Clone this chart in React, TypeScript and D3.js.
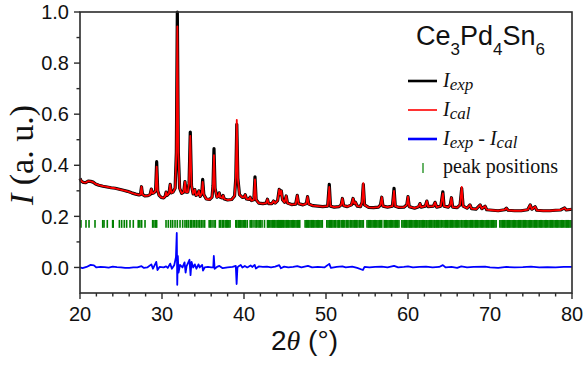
import React from "react";
import * as d3 from "d3";

// ---- data ----
const expData: [number, number][] = [
  [20.0,0.348],[20.15,0.338],[20.4,0.333],[20.7,0.332],[21.0,0.338],[21.3,0.337],[21.6,0.334],[21.9,0.327],
  [22.3,0.322],[22.8,0.318],[23.3,0.315],[23.8,0.312],[24.3,0.310],[24.8,0.306],[25.3,0.302],[25.8,0.298],
  [26.3,0.292],[26.8,0.287],[27.2,0.284],[27.38,0.286],[27.5,0.316],[27.62,0.286],[27.9,0.280],[28.3,0.281],
  [28.55,0.285],[28.7,0.307],[28.82,0.29],[29.0,0.292],[29.22,0.30],[29.35,0.414],[29.48,0.30],[29.65,0.282],
  [29.9,0.274],[30.2,0.272],[30.38,0.278],[30.5,0.295],[30.62,0.282],[30.85,0.290],[31.0,0.325],[31.13,0.292],
  [31.35,0.295],[31.6,0.31],[31.75,0.45],[31.87,1.0],[31.99,0.45],[32.15,0.31],[32.4,0.29],[32.65,0.295],
  [32.8,0.336],[32.93,0.295],[33.15,0.295],[33.3,0.33],[33.45,0.53],[33.6,0.32],[33.8,0.288],[34.0,0.305],
  [34.15,0.282],[34.35,0.285],[34.5,0.30],[34.65,0.278],[34.85,0.29],[34.96,0.345],[35.1,0.285],[35.4,0.268],
  [35.8,0.266],[36.1,0.275],[36.22,0.32],[36.34,0.465],[36.47,0.31],[36.7,0.275],[36.9,0.28],[36.98,0.292],
  [37.1,0.275],[37.35,0.272],[37.45,0.282],[37.6,0.268],[38.0,0.264],[38.5,0.266],[38.85,0.28],[39.0,0.35],
  [39.12,0.56],[39.25,0.35],[39.45,0.285],[39.8,0.274],[40.0,0.275],[40.15,0.285],[40.3,0.268],[40.6,0.266],
  [40.75,0.275],[40.9,0.262],[41.2,0.265],[41.34,0.355],[41.48,0.265],[41.8,0.252],[42.3,0.25],[42.7,0.252],
  [42.86,0.267],[43.0,0.25],[43.4,0.25],[43.6,0.26],[43.8,0.252],[44.1,0.262],[44.3,0.306],[44.42,0.285],
  [44.55,0.30],[44.7,0.265],[44.95,0.255],[45.15,0.28],[45.3,0.252],[45.8,0.246],[46.3,0.248],[46.5,0.282],
  [46.65,0.25],[47.2,0.245],[47.6,0.25],[47.75,0.277],[47.9,0.248],[48.4,0.242],[49.0,0.24],[49.6,0.238],
  [50.2,0.24],[50.4,0.325],[50.55,0.24],[51.0,0.236],[51.6,0.238],[51.85,0.245],[52.0,0.27],[52.15,0.242],
  [52.6,0.238],[53.1,0.245],[53.3,0.27],[53.45,0.25],[53.6,0.255],[53.8,0.24],[54.2,0.238],[54.4,0.255],
  [54.55,0.325],[54.7,0.245],[55.2,0.235],[55.8,0.234],[56.4,0.236],[56.65,0.245],[56.8,0.275],[56.95,0.24],
  [57.5,0.236],[58.1,0.24],[58.3,0.31],[58.45,0.24],[58.9,0.235],[59.5,0.236],[59.85,0.245],[60.0,0.277],
  [60.15,0.238],[60.8,0.232],[61.3,0.238],[61.46,0.25],[61.6,0.236],[62.1,0.24],[62.3,0.26],[62.45,0.238],
  [63.1,0.24],[63.3,0.255],[63.5,0.236],[64.0,0.24],[64.25,0.296],[64.4,0.24],[64.9,0.236],[65.15,0.245],
  [65.3,0.273],[65.45,0.236],[66.0,0.234],[66.35,0.245],[66.55,0.31],[66.72,0.24],[67.2,0.232],[67.56,0.245],
  [67.75,0.23],[68.3,0.228],[68.8,0.245],[69.0,0.23],[69.4,0.24],[69.6,0.226],[70.3,0.224],[71.0,0.222],
  [71.8,0.226],[72.0,0.232],[72.2,0.224],[73.0,0.222],[73.8,0.222],[74.6,0.226],[74.9,0.245],[75.1,0.228],
  [75.5,0.238],[75.7,0.224],[76.5,0.222],[77.3,0.222],[78.0,0.224],[78.6,0.225],[79.1,0.233],[79.3,0.225],
  [80.0,0.228],
];

// calculated intensity where it differs from the observed one (peak tops)
const calPeaks: [number, number][] = [
  [29.35,0.395],[31.87,0.944],[33.45,0.515],[36.34,0.44],[39.12,0.578],[41.34,0.345],[34.96,0.335],
  [50.4,0.315],[54.55,0.33],[58.3,0.3],[66.55,0.315],[64.25,0.29],
];

const diffData: [number, number][] = [
  [20.0,0.0],[20.3,-0.003],[20.8,0.002],[21.3,0.01],[21.7,0.008],[22.0,0.0],[22.5,0.002],[23.0,0.001],
  [23.5,-0.001],[24.0,0.003],[24.5,0.001],[25.0,0.0],[25.5,-0.002],[26.0,-0.002],[26.5,0.0],[27.0,0.0],
  [27.5,0.005],[27.8,-0.002],[28.2,0.0],[28.7,0.012],[28.9,-0.005],[29.3,0.022],[29.45,-0.01],[29.7,0.002],
  [30.2,0.0],[30.5,0.004],[30.7,-0.002],[31.0,0.015],[31.2,-0.005],[31.5,0.01],[31.7,0.04],[31.8,0.135],
  [31.86,-0.068],[31.93,0.045],[32.02,-0.02],[32.2,0.01],[32.5,0.0],[32.75,0.02],[32.88,-0.02],[33.0,0.005],
  [33.35,0.03],[33.48,-0.03],[33.6,0.022],[33.8,0.0],[34.0,0.012],[34.2,-0.005],[34.45,0.012],[34.6,0.0],
  [34.9,0.01],[35.0,-0.012],[35.2,0.0],[35.6,0.002],[36.0,0.0],[36.25,0.0],[36.32,0.045],[36.42,-0.005],
  [36.7,0.002],[37.0,0.006],[37.4,-0.003],[38.0,0.0],[38.6,0.002],[39.0,0.006],[39.1,-0.065],[39.2,0.0],
  [39.4,0.006],[39.6,0.01],[39.8,0.0],[40.1,0.006],[40.4,0.0],[40.8,0.008],[41.0,0.002],[41.3,0.01],
  [41.45,-0.004],[41.8,0.004],[42.3,0.002],[42.8,0.003],[43.3,0.0],[43.8,0.003],[44.3,0.009],[44.5,-0.003],
  [44.9,0.003],[45.4,0.0],[46.0,0.002],[46.5,0.005],[47.0,0.0],[47.8,0.006],[48.3,0.0],[49.0,0.002],
  [49.8,0.0],[50.4,0.014],[50.6,-0.002],[51.3,0.002],[52.0,0.004],[52.4,0.0],[53.2,0.003],[53.8,-0.002],
  [54.5,-0.01],[54.7,0.002],[55.3,0.0],[56.0,0.002],[56.8,0.003],[57.5,0.0],[58.3,0.006],[58.8,0.0],
  [59.5,0.002],[60.0,0.004],[60.6,0.0],[61.4,0.002],[62.2,0.003],[63.0,0.0],[63.8,0.002],[64.25,0.009],
  [64.6,0.0],[65.3,0.002],[66.0,-0.002],[66.5,0.004],[67.2,0.0],[68.0,0.002],[69.4,0.003],[70.0,0.0],
  [71.0,-0.002],[72.0,0.002],[73.0,0.0],[74.0,0.001],[75.0,0.003],[76.0,0.0],[77.0,0.001],[78.0,0.0],
  [79.0,0.002],[80.0,0.002],
];

const braggPositions: number[] = [
  20.12,20.73,21.1,21.83,22.77,22.93,23.33,23.98,24.05,24.8,25.08,25.4,25.69,26.1,26.5,27.1,27.3,27.52,27.93,
  28.86,29.02,29.23,29.35,30.49,30.77,31.06,31.3,31.59,31.87,32.2,32.52,32.8,33.0,33.2,33.45,33.6,33.8,34.0,
  34.2,34.4,34.6,34.8,35.0,35.2,35.75,35.9,36.1,36.34,36.5,37.0,37.15,37.35,37.5,37.7,37.85,38.0,38.15,38.3,
  39.0,39.12,39.3,39.45,39.6,39.75,39.9,40.05,40.2,40.4,40.75,40.9,41.1,41.34,41.5,41.7,41.85,42.0,42.2,42.5,
  42.86,43.0,43.15,43.3,43.45,43.6,43.75,43.9,44.05,44.2,44.3,44.45,44.55,44.7,44.85,45.0,45.15,45.3,45.45,
  45.6,45.75,45.9,46.05,46.2,46.35,46.5,46.65,46.8,47.45,47.6,47.75,47.9,48.05,48.2,48.35,48.5,48.65,48.8,
  48.95,49.1,49.25,49.4,49.55,50.1,50.25,50.4,50.55,50.7,50.85,51.0,51.15,51.35,51.5,51.65,51.85,52.0,52.15,
  52.3,52.5,52.65,52.8,53.0,53.15,53.3,53.45,53.6,53.75,53.9,54.1,54.25,54.4,54.55,55.0,55.15,55.3,55.45,
  55.6,55.75,55.9,56.05,56.2,56.35,56.5,56.65,56.8,57.1,57.25,57.4,57.55,57.7,57.85,58.0,58.15,58.3,58.45,
  58.6,58.75,58.9,59.25,59.4,59.55,59.7,59.85,60.0,60.15,60.3,60.45,60.6,60.75,60.9,61.05,61.2,61.35,61.46,
  61.6,61.75,61.9,62.05,62.2,62.3,62.45,62.6,62.75,62.9,63.05,63.2,63.3,63.45,63.6,63.75,63.9,64.05,64.25,
  64.4,64.55,64.7,64.85,65.0,65.15,65.3,65.45,65.6,65.75,65.9,66.05,66.2,66.35,66.55,66.7,66.85,67.0,67.15,
  67.3,67.45,67.6,67.75,67.9,68.05,68.2,68.35,68.5,68.65,68.8,68.95,69.1,69.25,69.4,69.55,69.7,69.85,70.0,
  70.15,70.3,70.45,70.6,70.75,71.2,71.35,71.5,71.65,71.8,71.95,72.1,72.25,72.4,72.55,72.7,72.85,73.0,73.15,
  73.3,73.45,73.6,73.75,73.9,74.05,74.2,74.35,74.5,74.65,74.8,74.95,75.1,75.25,75.4,75.55,75.7,75.85,76.0,
  76.15,76.3,76.45,76.6,76.75,76.9,77.05,77.2,77.35,77.5,77.65,77.8,77.95,78.1,78.25,78.4,78.55,78.7,78.85,
  79.0,79.15,79.3,79.45,79.6,79.75,79.9,
];

const xMajorTicks = [20, 30, 40, 50, 60, 70, 80];
const xMinorTicks = [22, 24, 26, 28, 32, 34, 36, 38, 42, 44, 46, 48, 52, 54, 56, 58, 62, 64, 66, 68, 72, 74, 76, 78];
const yMajorTicks = [0.0, 0.2, 0.4, 0.6, 0.8, 1.0];
const yMinorTicks = [0.1, 0.3, 0.5, 0.7, 0.9];
const braggBand = [0.155, 0.186];

export default function App() {
  const W = 586, H = 367;
  const L = 80, R = 572, T = 12, B = 293;
  const x = d3.scaleLinear().domain([20, 80]).range([L, R]);
  const y = d3.scaleLinear().domain([-0.1, 1.0]).range([B, T]);
  const line = d3.line<[number, number]>().x(d => x(d[0])).y(d => y(d[1]));

  const calMap = new Map(calPeaks.map(p => [p[0], p[1]]));
  const calData: [number, number][] = expData.map(d => [d[0], calMap.has(d[0]) ? (calMap.get(d[0]) as number) : d[1]]);

  const sans = "'Liberation Sans', Arial, sans-serif";
  const serif = "'Liberation Serif', 'Times New Roman', serif";
  const axisColor = "#2b2b2b";

  return (
    <svg width={W} height={H} style={{ position: "absolute", left: 0, top: 0, background: "#fff" }}>
      <rect x={0} y={0} width={W} height={H} fill="#fff" />
      {/* Bragg positions */}
      <g stroke="#008000" strokeWidth={1.6}>
        {braggPositions.map((p, i) => (
          <line key={i} x1={x(p)} x2={x(p)} y1={y(braggBand[0])} y2={y(braggBand[1])} />
        ))}
      </g>
      {/* curves */}
      <path d={line(expData) || ""} fill="none" stroke="#000" strokeWidth={3.2} strokeLinejoin="round" />
      <path d={line(calData) || ""} fill="none" stroke="#ff0000" strokeWidth={1.8} strokeLinejoin="round" />
      <path d={line(diffData) || ""} fill="none" stroke="#0000ff" strokeWidth={1.8} strokeLinejoin="round" />

      {/* frame */}
      <rect x={L} y={T} width={R - L} height={B - T} fill="none" stroke={axisColor} strokeWidth={1.6} />

      {/* ticks */}
      <g stroke={axisColor} strokeWidth={1.4}>
        {yMajorTicks.map(t => <line key={"ym" + t} x1={L - 6} x2={L} y1={y(t)} y2={y(t)} />)}
        {yMinorTicks.map(t => <line key={"yn" + t} x1={L - 3.5} x2={L} y1={y(t)} y2={y(t)} />)}
        {xMajorTicks.map(t => <line key={"xm" + t} x1={x(t)} x2={x(t)} y1={B} y2={B + 6} />)}
        {xMinorTicks.map(t => <line key={"xn" + t} x1={x(t)} x2={x(t)} y1={B} y2={B + 3.5} />)}
      </g>
      <g fontFamily={sans} fontSize={20} fill="#111">
        {yMajorTicks.map(t => (
          <text key={"yl" + t} x={L - 11} y={y(t)} dy="0.36em" textAnchor="end">{d3.format(".1f")(t)}</text>
        ))}
        {xMajorTicks.map(t => (
          <text key={"xl" + t} x={x(t)} y={321} textAnchor="middle">{t}</text>
        ))}
      </g>

      {/* axis titles */}
      <text x={271} y={350} fontSize={28} fill="#111">
        <tspan fontFamily={sans}>2</tspan>
        <tspan fontFamily={serif} fontStyle="italic">θ</tspan>
        <tspan fontFamily={sans}> (°)</tspan>
      </text>
      <text transform="translate(33,155) rotate(-90)" textAnchor="middle" fontFamily={serif} fontSize={34} fill="#111">
        <tspan fontStyle="italic">I</tspan>
        <tspan> (a. u.)</tspan>
      </text>

      {/* compound label */}
      <text x={416} y={45} fontFamily={sans} fontSize={27} fill="#111">
        Ce<tspan fontSize={17} dy={10}>3</tspan>
        <tspan dy={-10}>Pd</tspan><tspan fontSize={17} dy={10}>4</tspan>
        <tspan dy={-10}>Sn</tspan><tspan fontSize={17} dy={10}>6</tspan>
      </text>

      {/* legend */}
      <line x1={408} x2={437} y1={81} y2={81} stroke="#000" strokeWidth={2.6} />
      <line x1={408} x2={437} y1={110} y2={110} stroke="#ff0000" strokeWidth={1.6} />
      <line x1={408} x2={437} y1={139} y2={139} stroke="#0000ff" strokeWidth={2.6} />
      <line x1={423} x2={423} y1={163} y2={173} stroke="#008000" strokeWidth={1.2} />
      <g fontFamily={serif} fontSize={20} fill="#111">
        <text x={443} y={87}>
          <tspan fontStyle="italic">I</tspan><tspan fontStyle="italic" fontSize={17} dy={3}>exp</tspan>
        </text>
        <text x={443} y={116}>
          <tspan fontStyle="italic">I</tspan><tspan fontStyle="italic" fontSize={17} dy={3}>cal</tspan>
        </text>
        <text x={443} y={145}>
          <tspan fontStyle="italic">I</tspan><tspan fontStyle="italic" fontSize={17} dy={3}>exp</tspan>
          <tspan dy={-3}> - </tspan>
          <tspan fontStyle="italic">I</tspan><tspan fontStyle="italic" fontSize={17} dy={3}>cal</tspan>
        </text>
        <text x={443} y={173}>peak positions</text>
      </g>
    </svg>
  );
}
